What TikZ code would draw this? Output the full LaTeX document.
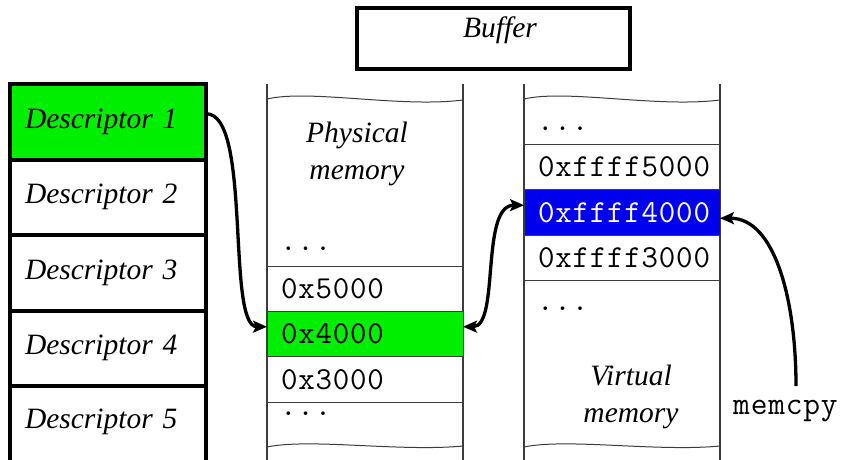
\documentclass[tikz,border=0pt]{standalone}
\usepackage{fontspec}
\setmainfont{Liberation Serif}
\newfontfamily\cour[LetterSpace=2.5]{Latin Modern Mono}
\usetikzlibrary{arrows.meta}
\definecolor{cellgreen}{RGB}{0,238,0}
\definecolor{cellblue}{RGB}{0,0,238}
\definecolor{linegray}{RGB}{60,60,60}
\begin{document}
\begin{tikzpicture}[x=1pt,y=-1pt,
  desc/.style={draw=black, line width=4pt, outer sep=0pt, minimum width=196pt, minimum height=75.5pt,
    inner xsep=15pt, text width=166pt, align=left, anchor=north west,
    font=\fontsize{29.5}{33}\selectfont\itshape},
  memcell/.style={draw=linegray, line width=1pt, outer sep=0pt, minimum width=196pt, minimum height=45.5pt,
    inner xsep=14pt, text width=168pt, align=left, anchor=north west,
    font=\fontsize{32}{34}\selectfont\cour},
  dots/.style={anchor=base west, inner sep=0pt, text height=5pt, font=\fontsize{32}{34}\selectfont\cour},
  coltitle/.style={anchor=center, align=center, inner sep=0pt, font=\fontsize{29.5}{37}\selectfont\itshape},
  colline/.style={draw=linegray, line width=1.3pt},
  wave/.style={draw=linegray, line width=1pt},
  arr/.style={line width=3.3pt, -{Stealth[length=14pt,width=12pt,inset=3pt]}},
  dblarr/.style={line width=3.3pt, {Stealth[length=14pt,width=12pt,inset=3pt]}-{Stealth[length=14pt,width=12pt,inset=3pt]}}
]
\useasboundingbox (0,0) rectangle (846,460);

% Buffer
\node[draw=black, line width=3.5pt, minimum width=273pt, minimum height=61pt, inner sep=0pt] (buf) at (493.5,38.5) {};
\node[inner sep=0pt, font=\fontsize{29.5}{33}\selectfont\itshape] (buftxt) at (500,30) {Buffer};

% Descriptor column
\draw[line width=4pt] (10,386) -- (10,470) (206,386) -- (206,470);
\node[desc, fill=cellgreen] (d1) at (10,84) {Descriptor 1};
\node[desc] (d2) at (10,159.5) {Descriptor 2};
\node[desc] (d3) at (10,235) {Descriptor 3};
\node[desc] (d4) at (10,310.5) {Descriptor 4};
\node[desc, draw=none, minimum height=72pt] (d5) at (10,386) {Descriptor 5};

% Physical memory column
\draw[colline] (267,84) -- (267,465) (463,84) -- (463,465);
\draw[wave] (267,99) .. controls (310,89) and (400,108) .. (463,100);
\draw[wave] (267,447) .. controls (310,438) and (400,452) .. (463,446);
\node[coltitle] (ptitle) at (357,154) {Physical\\memory};
\node[dots] (pd1) at (280,250) {...};
\node[memcell] (p5) at (267,266) {0x5000};
\node[memcell, fill=cellgreen] (p4) at (267,311) {0x4000};
\node[memcell] (p3) at (267,356.5) {0x3000};
\node[dots] (pd2) at (280,415) {...};

% Virtual memory column
\draw[colline] (524,84) -- (524,465) (720,84) -- (720,465);
\draw[wave] (524,99) .. controls (567,89) and (657,108) .. (720,100);
\draw[wave] (524,447) .. controls (567,438) and (657,452) .. (720,446);
\node[dots] (vd1) at (537,130) {...};
\node[memcell] (v5) at (524,144) {0xffff5000};
\node[memcell, fill=cellblue, text=white] (v4) at (524,189.5) {0xffff4000};
\node[memcell] (v3) at (524,235) {0xffff3000};
\node[dots] (vd2) at (537,310) {...};
\node[coltitle] (vtitle) at (631,397) {Virtual\\memory};

% memcpy
\node[anchor=base west, inner sep=0pt, font=\fontsize{32.5}{34}\selectfont\cour] (mc) at (733,414) {memcpy};

% Connectors
\draw[arr] ([yshift=8pt]d1.east) .. controls (252,113) and (226,326.5) .. ([yshift=7pt]p4.west);
\draw[dblarr] ([yshift=7pt]p4.east) .. controls (500,326.5) and (480,205) .. ([yshift=7pt]v4.west);
\draw[arr] (796,386) .. controls (796,300) and (775,218) .. ([yshift=-6pt]v4.east);
\end{tikzpicture}
\end{document}
